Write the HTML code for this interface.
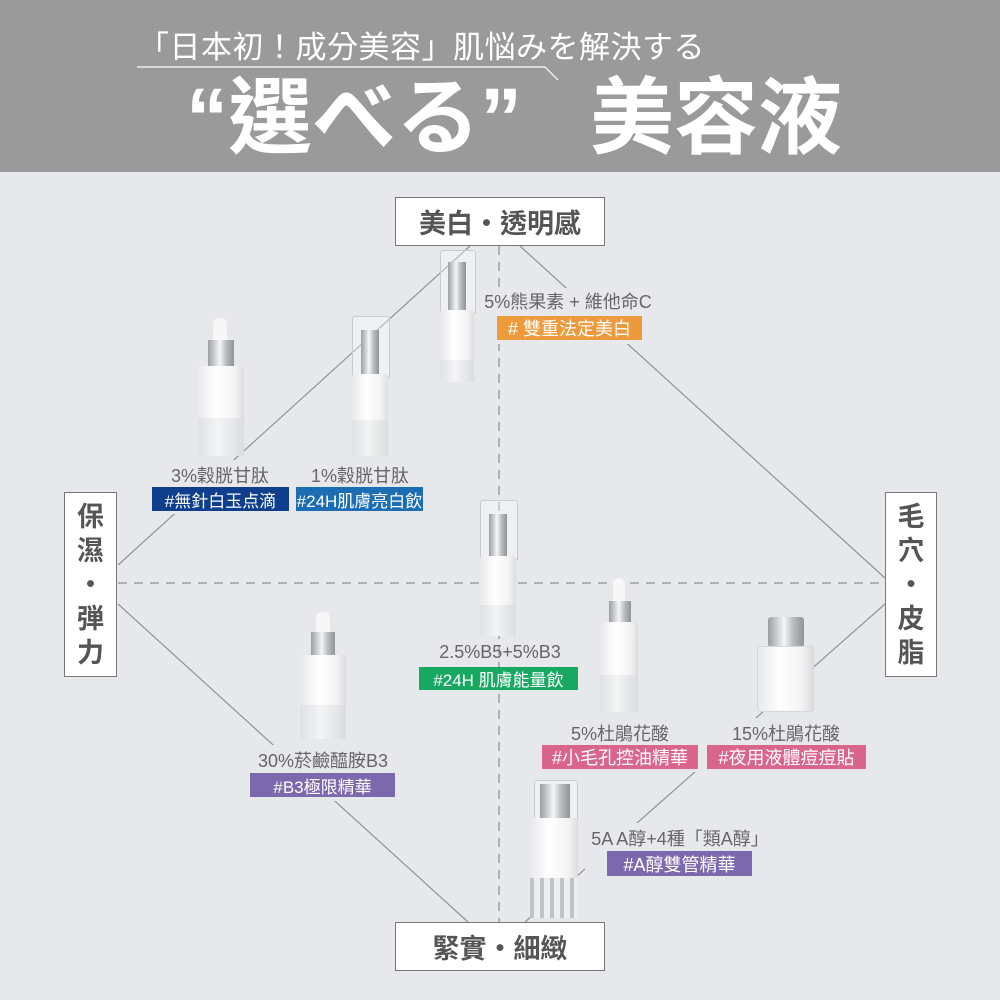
<!DOCTYPE html>
<html><head><meta charset="utf-8"><style>
body{margin:0;width:1000px;height:1000px;overflow:hidden;background:#e6e8ec;font-family:"Liberation Sans","Noto Sans CJK TC",sans-serif;position:relative}
.a{position:absolute}
.hd{left:0;top:0;width:1000px;height:172px;background:#9a9a9a}
.box{position:absolute;background:#fff;border:1.5px solid #777;box-sizing:border-box;color:#555;font-weight:bold;font-size:27px;display:flex;align-items:center;justify-content:center}
.lbl{position:absolute;color:#666;font-size:18px;white-space:nowrap;transform:translateX(-50%)}
.tag{position:absolute;color:#fff;font-size:17px;display:flex;align-items:center;justify-content:center;white-space:nowrap}
.cap{position:absolute;background:linear-gradient(90deg,#9a9ea3,#f4f5f6 45%,#b9bcc0 70%,#8f9398)}
.bd{position:absolute;background:linear-gradient(90deg,#e8e9eb,#fff 40%,#f3f3f4 80%,#dcdde0);border-radius:3px}
.fr{position:absolute;background:linear-gradient(90deg,#dfe1e4,#f3f4f5 45%,#dadcdf)}
.clr{position:absolute;border:1px solid #c9cbcf;background:rgba(255,255,255,.35);border-radius:3px 3px 0 0}
</style></head><body>
<div class="a hd"></div>
<div class="a" style="left:138px;top:22px;color:#fff;font-size:31px;letter-spacing:0.5px;white-space:nowrap">「日本初！成分美容」肌悩みを解決する</div>
<svg class="a" style="left:0;top:0" width="1000" height="172"><polyline points="137,67 545,67 558,80" fill="none" stroke="#fff" stroke-width="1.2"/></svg>
<div class="a" style="left:186px;top:68px;color:#fff;font-size:84px;font-weight:bold;line-height:100px;white-space:nowrap">“選べる”</div>
<div class="a" style="left:590px;top:68px;color:#fff;font-size:84px;font-weight:bold;line-height:100px;white-space:nowrap">美容液</div>

<svg class="a" style="left:0;top:0" width="1000" height="1000">
<g stroke="#8f9296" stroke-width="1.2" fill="none">
<line x1="470" y1="246" x2="118" y2="565"/>
<line x1="520" y1="246" x2="885" y2="578"/>
<line x1="118" y1="604" x2="468" y2="922"/>
<line x1="525" y1="922" x2="885" y2="604"/>
</g>
<g stroke="#9a9da1" stroke-width="1.5" stroke-dasharray="9,7">
<line x1="499" y1="246" x2="499" y2="922"/>
<line x1="118" y1="583" x2="885" y2="583"/>
</g>
</svg>
<div class="a" style="left:470px;top:288px;width:200px;height:56px;background:#e6e8ec"></div>
<div class="a" style="left:150px;top:460px;width:280px;height:54px;background:#e6e8ec"></div>
<div class="a" style="left:245px;top:745px;width:160px;height:56px;background:#e6e8ec"></div>
<div class="a" style="left:535px;top:718px;width:340px;height:54px;background:#e6e8ec"></div>
<div class="a" style="left:585px;top:823px;width:200px;height:56px;background:#e6e8ec"></div>

<div class="box" style="left:395px;top:197px;width:210px;height:49px">美白・透明感</div>
<div class="box" style="left:395px;top:922px;width:210px;height:49px">緊實・細緻</div>
<div class="box" style="left:64px;top:492px;width:53px;height:185px;flex-direction:column;line-height:34px">保<br>濕<br>・<br>弾<br>力</div>
<div class="box" style="left:885px;top:492px;width:52px;height:185px;flex-direction:column;line-height:34px">毛<br>穴<br>・<br>皮<br>脂</div>

<div class="clr" style="left:440px;top:250px;width:34px;height:62px"></div>
<div class="cap" style="left:448px;top:262px;width:18px;height:50px"></div>
<div class="bd" style="left:440px;top:310px;width:34px;height:72px"></div>
<div class="fr" style="left:440px;top:360px;width:34px;height:22px"></div>
<div class="a" style="left:213px;top:318px;width:14px;height:24px;background:#f7f7f7;border-radius:6px 6px 0 0"></div>
<div class="cap" style="left:208px;top:340px;width:26px;height:26px"></div>
<div class="bd" style="left:198px;top:366px;width:46px;height:90px"></div>
<div class="fr" style="left:198px;top:418px;width:46px;height:38px"></div>
<div class="clr" style="left:352px;top:316px;width:36px;height:60px"></div>
<div class="cap" style="left:361px;top:330px;width:18px;height:46px"></div>
<div class="bd" style="left:352px;top:374px;width:36px;height:82px"></div>
<div class="fr" style="left:352px;top:420px;width:36px;height:36px"></div>
<div class="clr" style="left:480px;top:500px;width:36px;height:58px"></div>
<div class="cap" style="left:489px;top:514px;width:18px;height:44px"></div>
<div class="bd" style="left:480px;top:556px;width:36px;height:80px"></div>
<div class="fr" style="left:480px;top:605px;width:36px;height:31px"></div>
<div class="a" style="left:316px;top:612px;width:14px;height:22px;background:#f7f7f7;border-radius:6px 6px 0 0"></div>
<div class="cap" style="left:311px;top:632px;width:24px;height:24px"></div>
<div class="bd" style="left:300px;top:655px;width:46px;height:84px"></div>
<div class="fr" style="left:300px;top:705px;width:46px;height:34px"></div>
<div class="a" style="left:613px;top:578px;width:12px;height:24px;background:#f7f7f7;border-radius:6px 6px 0 0"></div>
<div class="cap" style="left:609px;top:601px;width:22px;height:22px"></div>
<div class="bd" style="left:600px;top:622px;width:38px;height:90px"></div>
<div class="fr" style="left:600px;top:675px;width:38px;height:37px"></div>
<div class="cap" style="left:768px;top:617px;width:36px;height:30px;border-radius:3px"></div>
<div class="bd" style="left:757px;top:646px;width:55px;height:64px;border:1px solid #d5d6d9"></div>
<div class="clr" style="left:534px;top:780px;width:42px;height:40px"></div>
<div class="cap" style="left:540px;top:784px;width:30px;height:36px"></div>
<div class="bd" style="left:530px;top:818px;width:48px;height:62px"></div>
<div class="fr" style="left:530px;top:878px;width:48px;height:40px;background:repeating-linear-gradient(90deg,#bfc2c6 0 4px,#eceef0 4px 10px)"></div>

<div class="lbl" style="left:568px;top:288px">5%熊果素 + 維他命C</div>
<div class="tag" style="left:497px;top:316px;width:145px;height:24px;background:#ec9a3c;font-size:18px"># 雙重法定美白</div>
<div class="lbl" style="left:220px;top:462px">3%穀胱甘肽</div>
<div class="tag" style="left:152px;top:487px;width:137px;height:24px;background:#0f3f8c">#無針白玉点滴</div>
<div class="lbl" style="left:360px;top:462px">1%穀胱甘肽</div>
<div class="tag" style="left:296px;top:487px;width:127px;height:24px;background:#1c6db4">#24H肌膚亮白飲</div>
<div class="lbl" style="left:500px;top:642px">2.5%B5+5%B3</div>
<div class="tag" style="left:419px;top:667px;width:159px;height:23px;background:#19a862">#24H 肌膚能量飲</div>
<div class="lbl" style="left:323px;top:747px">30%菸鹼醯胺B3</div>
<div class="tag" style="left:250px;top:773px;width:145px;height:24px;background:#7c68ad">#B3極限精華</div>
<div class="lbl" style="left:620px;top:720px">5%杜鵑花酸</div>
<div class="tag" style="left:542px;top:745px;width:156px;height:24px;background:#d9648c;font-size:18px">#小毛孔控油精華</div>
<div class="lbl" style="left:786px;top:720px">15%杜鵑花酸</div>
<div class="tag" style="left:707px;top:745px;width:159px;height:24px;background:#d9648c;font-size:18px">#夜用液體痘痘貼</div>
<div class="lbl" style="left:680px;top:825px">5A A醇+4種「類A醇」</div>
<div class="tag" style="left:607px;top:851px;width:145px;height:25px;background:#7c68ad;font-size:18px">#A醇雙管精華</div>
</body></html>
